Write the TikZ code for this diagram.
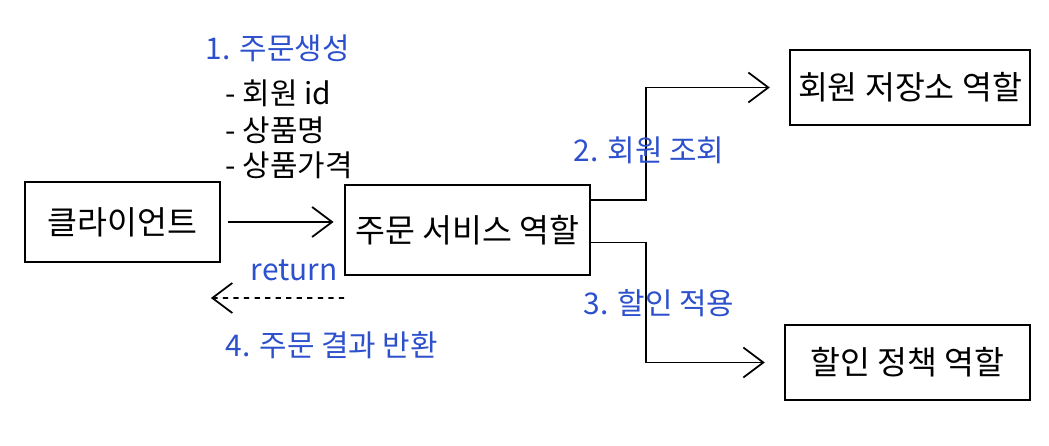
\documentclass[tikz,border=0pt]{standalone}
\usepackage{fontspec}
\setmainfont{Noto Sans CJK KR}
\usepackage{tikz}
\usetikzlibrary{arrows.meta,positioning}
\definecolor{pen}{RGB}{45,80,205}
\tikzset{
  rolebox/.style={draw, line width=1pt, inner sep=2pt, font=\fontsize{18.5}{22}\selectfont},
  msg/.style={anchor=west, inner sep=0pt, font=\fontsize{17}{20}\selectfont},
}

\begin{document}
\begin{tikzpicture}[>={Straight Barb[length=4mm,width=6mm]}, line width=1pt]
  \useasboundingbox (0,0) rectangle (20.98,8.92);

  % roles
  \node[rolebox, minimum width=3.9cm, minimum height=1.6cm] (client) at (2.45,4.48) {클라이언트};
  \node[rolebox, minimum width=4.9cm, minimum height=1.8cm] (order) at (9.35,4.32) {주문 서비스 역할};
  \node[rolebox, minimum width=4.8cm, minimum height=1.5cm] (member) at (18.2,7.17) {회원 저장소 역할};
  \node[rolebox, minimum width=4.9cm, minimum height=1.5cm] (discount) at (18.15,1.67) {할인 정책 역할};

  % request from the client
  \draw[->, shorten <=4pt, shorten >=6pt] (client.east) -- (client.east -| order.west);
  \node[msg, pen] (step1) at (4.1,7.96) {1. 주문생성};
  \node[msg] (item1) at (4.5,7.06) {- 회원 id};
  \node[msg] (item2) at (4.5,6.32) {- 상품명};
  \node[msg] (item3) at (4.5,5.62) {- 상품가격};

  % calls to the other roles
  \draw[->, shorten >=11pt] ([yshift=0.6cm]order.east) -- ++(1.1,0) |- (member.west);
  \draw[->, shorten >=11pt] ([yshift=-0.25cm]order.east) -- ++(1.1,0) |- (discount.west);
  \node[msg, pen] (step2) at (11.46,5.92) {2. 회원 조회};
  \node[msg, pen] (step3) at (11.66,2.86) {3. 할인 적용};

  % answer back to the client
  \draw[->, dashed] ([yshift=-1.36cm]order.west) -- ([xshift=-0.2cm, yshift=-1.52cm]client.east);
  \node[msg, pen] (ret) at (5.0,3.52) {return};
  \node[msg, pen] (step4) at (4.5,2.02) {4. 주문 결과 반환};
\end{tikzpicture}
\end{document}
